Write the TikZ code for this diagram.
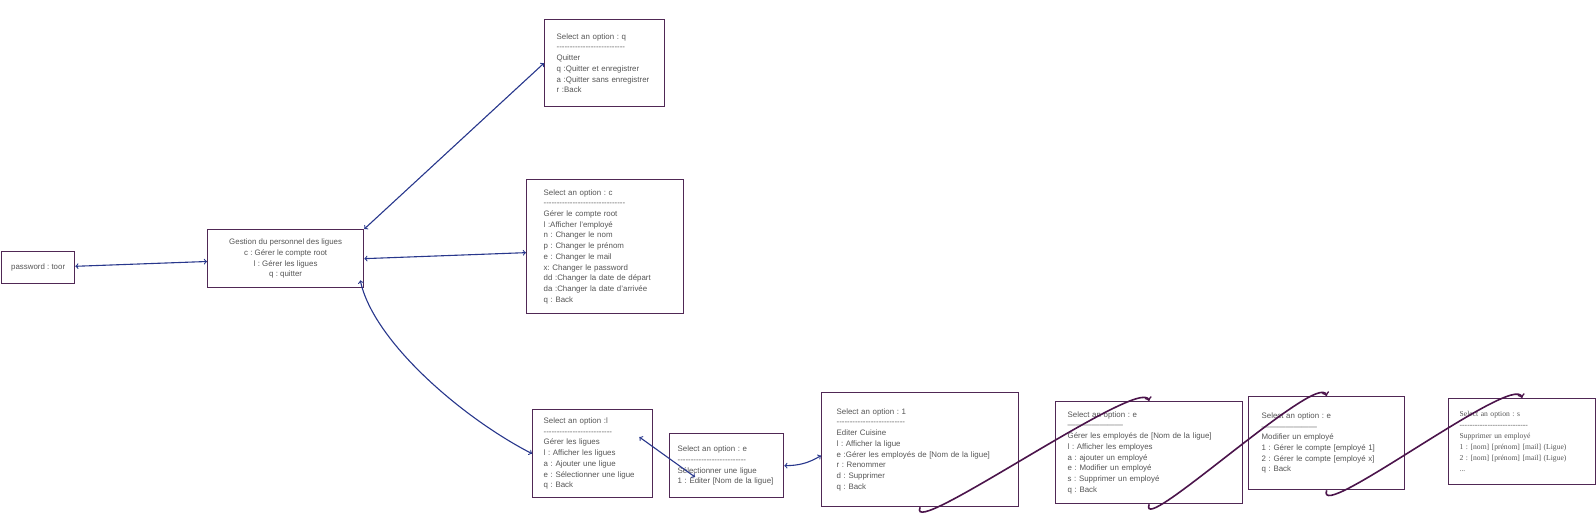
\documentclass[tikz,border=0pt]{standalone}
\usepackage{fontspec}
\setmainfont{Liberation Sans}
\newfontfamily\timesfont{Liberation Serif}
\usepackage{tikz}
\frenchspacing
\definecolor{frame}{RGB}{80,40,85}
\definecolor{navy}{RGB}{40,55,140}
\definecolor{plum}{RGB}{75,20,75}
\definecolor{ink}{RGB}{85,85,85}
\def\sepline#1{\foreach\i in {1,...,#1}{-\kern0pt}}
\def\solidline{———————}
\def\dlink{\draw[link]}
\def\dflow{\draw[flow]}

\begin{document}
\begin{tikzpicture}[x=1pt,y=-1pt,
    screen/.style={draw=frame,line width=1.3pt,anchor=north west,align=left,inner ysep=0pt,
        text=ink,font=\fontsize{7.9}{10.7}\selectfont},
    link/.style={navy,line width=1.1pt,<->},
    flow/.style={plum,line width=1.6pt,->}]
                \useasboundingbox (0,0) rectangle (1596,519);
                \node[screen,align=center,minimum width=73pt,minimum height=32pt] (pwd) at (1,251) {password : toor};
                \node[screen,align=center,minimum width=156pt,minimum height=58pt] (gest) at (207,229)
                    {Gestion du personnel des ligues\\c : Gérer le compte root\\l : Gérer les ligues\\q : quitter};
                \node[screen,text width=96pt,inner xsep=12pt,minimum height=87pt] (quit) at (544,19)
                    {Select an option : q\\\sepline{26}\\Quitter\\q :Quitter et enregistrer\\a :Quitter sans enregistrer\\r :Back};
                \node[screen,text width=123pt,inner xsep=17pt,minimum height=134pt] (root) at (526,179)
                    {Select an option : c\\\sepline{31}\\Gérer le compte root\\l :Afficher l'employé\\n : Changer le nom\\p : Changer le prénom\\e : Changer le mail\\x: Changer le password\\dd :Changer la date de départ\\da :Changer la date d'arrivée\\q : Back};
                \node[screen,text width=98pt,inner xsep=11pt,minimum height=88pt] (lig) at (532,409)
                    {Select an option :l\\\sepline{26}\\Gérer les ligues\\l : Afficher les ligues\\a : Ajouter une ligue\\e : Sélectionner une ligue\\q : Back};
                \node[screen,text width=98pt,inner xsep=8pt,minimum height=64pt] (sel) at (669,433)
                    {Select an option : e\\\sepline{26}\\Sélectionner une ligue\\1 : Editer [Nom de la ligue]};
                \node[screen,text width=167pt,inner xsep=15pt,minimum height=114pt] (edit) at (821,392)
                    {Select an option : 1\\\sepline{26}\\Editer Cuisine\\l : Afficher la ligue\\e :Gérer les employés de [Nom de la ligue]\\r : Renommer\\d : Supprimer\\q : Back};
                \node[screen,text width=163pt,inner xsep=12pt,minimum height=102pt] (ger) at (1055,401)
                    {Select an option : e\\\solidline\\Gérer les employés de [Nom de la ligue]\\l : Afficher les employes\\a : ajouter un employé\\e : Modifier un employé\\s : Supprimer un employé\\q : Back};
                \node[screen,text width=130pt,inner xsep=13pt,minimum height=93pt] (mod) at (1248,396)
                    {Select an option : e\\\solidline\\Modifier un employé\\1 : Gérer le compte [employé 1]\\2 : Gérer le compte [employé x]\\q : Back};
                \node[screen,text width=125pt,inner xsep=11pt,minimum height=86pt,font=\timesfont\fontsize{7.6}{11}\selectfont] (supp) at (1448,398)
                    {Select an option : s\\\sepline{27}\\Supprimer un employé\\1 : [nom] [prénom] [mail] (Ligue)\\2 : [nom] [prénom] [mail] (Ligue)\\...};
                \dlink (pwd) -- (gest);
                \dlink (gest.north east) -- (quit.west);
                \dlink (gest.east) -- ([shift={(0,6)}]root.west);
                \dlink ([shift={(-4,-8)}]gest.south east) .. controls +(13,61) and +(-70,-36) .. (lig.west);
                \dlink ([shift={(-14,28)}]lig.north east) -- ([shift={(26,44)}]sel.north west);
                \dlink (sel.east) to[bend right=15] ([shift={(0,6)}]edit.west);
                \dflow (edit.south) .. controls +(-15,35) and +(-8,-26) .. (ger.north);
                \dflow (ger.south) .. controls +(-12,35) and +(-8,-26) .. (mod.north);
                \dflow (mod.south) .. controls +(-12,35) and +(-8,-26) .. (supp.north);
            \end{tikzpicture}
\end{document}
